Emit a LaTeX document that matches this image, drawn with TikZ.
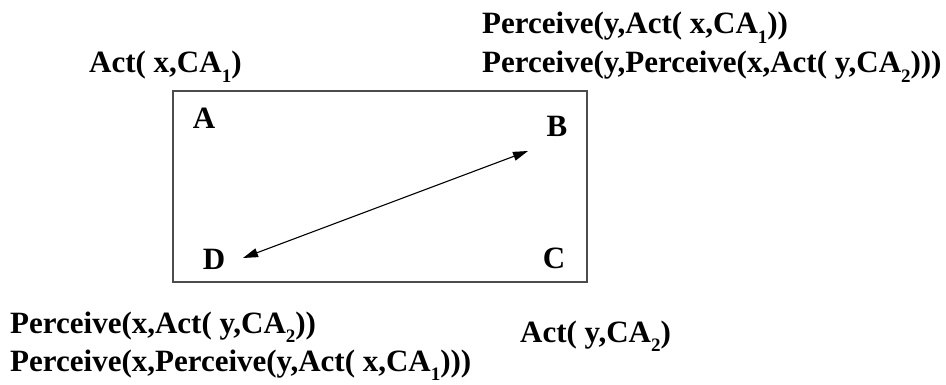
\documentclass[tikz,border=0pt]{standalone}
\usepackage{fontspec}
\setmainfont{Liberation Serif}
\usetikzlibrary{arrows.meta}
\newcommand{\sbs}[1]{\raisebox{-9.5pt}{\fontsize{19}{19}\selectfont #1}}
\tikzset{
  lbl/.style={inner sep=0pt, anchor=base west, font=\fontsize{31}{35}\selectfont\bfseries},
  corner/.style={inner sep=2pt, font=\fontsize{31}{35}\selectfont\bfseries},
  frame/.style={draw=black!70, line width=1.2pt},
  link/.style={line width=1.1pt, {Triangle[length=15pt,width=9pt]}-{Triangle[length=15pt,width=9pt]}}
}
\begin{document}
\begin{tikzpicture}[x=1pt,y=-1pt]
\useasboundingbox (0,0) rectangle (946,385);
\draw[frame] (173,91) rectangle (587,282);
\node[corner] (A) at (204,118) {A};
\node[corner] (B) at (557,126) {B};
\node[corner] (C) at (554,258) {C};
\node[corner] (D) at (214,259) {D};
\coordinate (dEnd) at (243,258);
\coordinate (bEnd) at (528,151);
\draw[link] (dEnd) -- (bEnd);
\node[lbl] (actx) at (89,73) {Act( x,CA\sbs{1})};
\node[lbl] (pb1) at (482,34) {Perceive(y,Act( x,CA\sbs{1}))};
\node[lbl] (pb2) at (482,73) {Perceive(y,Perceive(x,Act( y,CA\sbs{2})))};
\node[lbl] (pd1) at (10,333) {Perceive(x,Act( y,CA\sbs{2}))};
\node[lbl] (pd2) at (10,371) {Perceive(x,Perceive(y,Act( x,CA\sbs{1})))};
\node[lbl] (acty) at (520,342) {Act( y,CA\sbs{2})};
\end{tikzpicture}
\end{document}
